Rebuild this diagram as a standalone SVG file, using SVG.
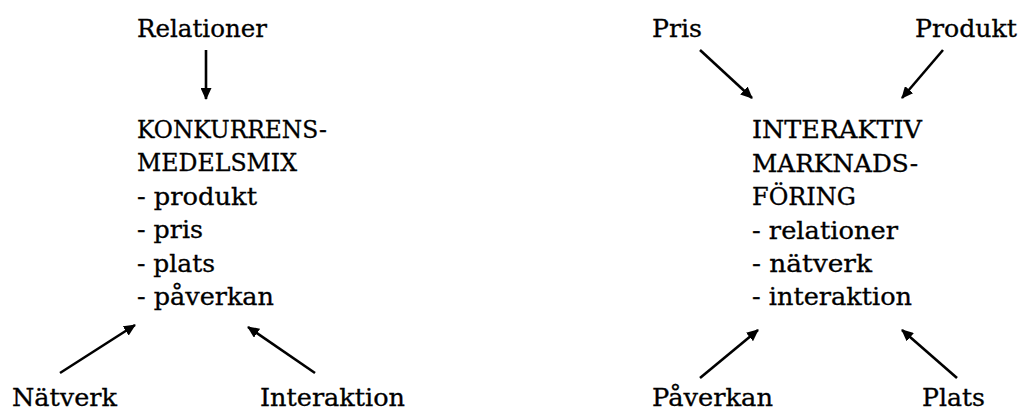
<svg xmlns="http://www.w3.org/2000/svg" width="1021" height="411" viewBox="0 0 1021 411">
<style>
text{font-family:"DejaVu Serif","Liberation Serif",serif;font-size:23.5px;fill:#000;stroke:#000;stroke-width:0.3}
.c line{stroke:#000;stroke-width:2.6;marker-end:url(#ah)}
</style>
<defs>
<marker id="ah" markerUnits="userSpaceOnUse" markerWidth="12" markerHeight="11" refX="11" refY="5.5" orient="auto">
<path d="M0,0 L12,5.5 L0,11 z" fill="#000"/>
</marker>
</defs>
<rect width="1021" height="411" fill="#fff"/>
<g class="c" id="connectors">
<line x1="206" y1="50" x2="206" y2="99"/>
<line x1="60" y1="373" x2="135" y2="325"/>
<line x1="315" y1="373" x2="248" y2="327"/>
<line x1="700" y1="50" x2="752" y2="98"/>
<line x1="943" y1="50" x2="902" y2="98"/>
<line x1="700" y1="378" x2="758" y2="330"/>
<line x1="957" y1="378" x2="902" y2="330"/>
</g>
<g id="relationer"><text x="137" y="36.5" textLength="130" lengthAdjust="spacingAndGlyphs">Relationer</text></g>
<g id="konkurrensmedelsmix">
<text x="137" y="137.5" textLength="190" lengthAdjust="spacingAndGlyphs">KONKURRENS-</text>
<text x="137" y="171" textLength="160" lengthAdjust="spacingAndGlyphs">MEDELSMIX</text>
<text x="137" y="204.5" textLength="120" lengthAdjust="spacingAndGlyphs">- produkt</text>
<text x="137" y="238" textLength="66" lengthAdjust="spacingAndGlyphs">- pris</text>
<text x="137" y="271.5" textLength="78" lengthAdjust="spacingAndGlyphs">- plats</text>
<text x="137" y="305" textLength="137" lengthAdjust="spacingAndGlyphs">- påverkan</text>
</g>
<g id="natverk"><text x="12" y="406" textLength="105" lengthAdjust="spacingAndGlyphs">Nätverk</text></g>
<g id="interaktion"><text x="260" y="406" textLength="145" lengthAdjust="spacingAndGlyphs">Interaktion</text></g>
<g id="pris"><text x="652" y="37" textLength="50" lengthAdjust="spacingAndGlyphs">Pris</text></g>
<g id="produkt"><text x="915" y="37" textLength="102" lengthAdjust="spacingAndGlyphs">Produkt</text></g>
<g id="interaktivmarknadsforing">
<text x="752" y="138" textLength="170" lengthAdjust="spacingAndGlyphs">INTERAKTIV</text>
<text x="752" y="171.5" textLength="166" lengthAdjust="spacingAndGlyphs">MARKNADS-</text>
<text x="752" y="205" textLength="104" lengthAdjust="spacingAndGlyphs">FÖRING</text>
<text x="752" y="238.5" textLength="146" lengthAdjust="spacingAndGlyphs">- relationer</text>
<text x="752" y="272" textLength="120" lengthAdjust="spacingAndGlyphs">- nätverk</text>
<text x="752" y="305" textLength="160" lengthAdjust="spacingAndGlyphs">- interaktion</text>
</g>
<g id="paverkan"><text x="652" y="406" textLength="121" lengthAdjust="spacingAndGlyphs">Påverkan</text></g>
<g id="plats"><text x="922" y="406" textLength="63" lengthAdjust="spacingAndGlyphs">Plats</text></g>
</svg>
